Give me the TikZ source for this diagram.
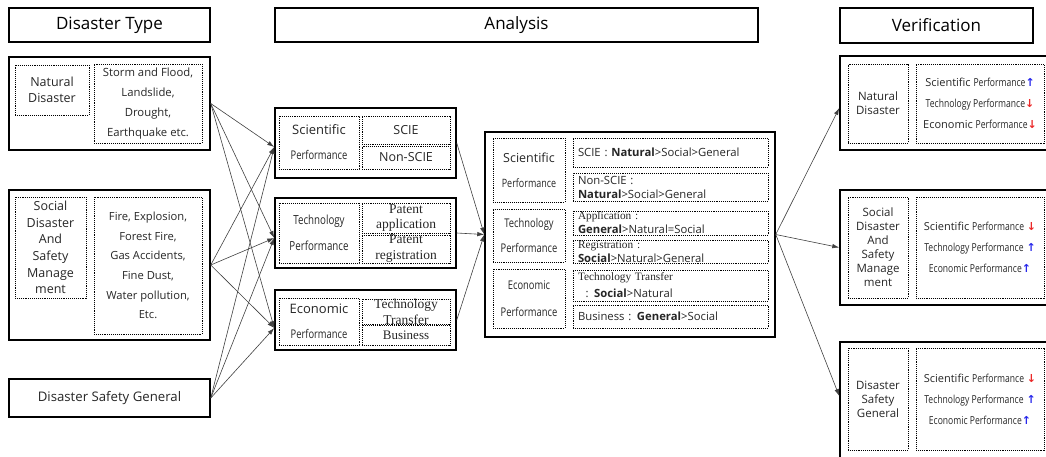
\documentclass[tikz,border=0pt]{standalone}
\usepackage{fontspec}
\usetikzlibrary{arrows.meta}
\setmainfont{Open Sans}
\newfontfamily\serif{Liberation Serif}
\newfontfamily\narrow{Open Sans}[FakeStretch=0.78]
\newfontfamily\signs{DejaVu Sans}
\definecolor{upblue}{RGB}{40,40,235}
\definecolor{downred}{RGB}{235,40,40}
\newcommand{\up}{{\signs\bfseries\color{upblue}↑}}
\newcommand{\down}{{\signs\bfseries\color{downred}↓}}
\begin{document}
\begin{tikzpicture}[x=1pt,y=-1pt,>={Latex[length=7pt,width=4.5pt]},
  box/.style={draw,line width=1.5pt,inner sep=0pt,align=center},
  dots/.style={draw,densely dotted,line width=0.9pt,inner xsep=0pt,inner ysep=-6pt,align=center,text=black!85},
  dotl/.style={dots,align=left,inner xsep=5pt},
  link/.style={->,line width=0.6pt,draw=black!75}]
\useasboundingbox (0,0) rectangle (1046,456);
\coordinate (H1) at (109.5,25);
\coordinate (H2) at (516.5,25);
\coordinate (H3) at (936.5,25.5);
\coordinate (L1) at (109.5,103.5);
\coordinate (L2) at (109.5,265);
\coordinate (L3) at (109.5,398);
\coordinate (M1) at (365.5,143);
\coordinate (M2) at (365.5,233);
\coordinate (M3) at (365.5,320);
\coordinate (A) at (630,234.5);
\coordinate (R1) at (952,103);
\coordinate (R2) at (952,247.5);
\coordinate (R3) at (952,406);
\node[box,minimum width=201,minimum height=34,font=\fontsize{17}{20}\selectfont] (htype) at (H1) {Disaster Type};
\node[box,minimum width=483,minimum height=34,font=\fontsize{17}{20}\selectfont] (hana) at (H2) {Analysis};
\node[box,minimum width=193,minimum height=35,font=\fontsize{17}{20}\selectfont] (hver) at (H3) {Verification};
\node[box,minimum width=201,minimum height=93] (lnat) at (L1) {};
\node[dots,minimum width=74,minimum height=50,font=\fontsize{12.5}{16}\selectfont] (lnatname) at (52,90) {Natural\\Disaster};
\node[dots,minimum width=108,minimum height=79,font=\fontsize{11.3}{20}\selectfont] (lnatlist) at (148,103.5) {Storm and Flood,\\Landslide,\\Drought,\\Earthquake etc.};
\node[box,minimum width=201,minimum height=150] (lsoc) at (L2) {};
\node[dots,minimum width=71,minimum height=101,font=\fontsize{12.5}{16.7}\selectfont] (lsocname) at (50.5,247.5) {Social\\Disaster\\And\\Safety\\Manage\\ment};
\node[dots,minimum width=108,minimum height=137,font=\fontsize{11.2}{19.6}\selectfont] (lsoclist) at (148,265.5) {Fire, Explosion,\\Forest Fire,\\Gas Accidents,\\Fine Dust,\\Water pollution,\\Etc.};
\node[box,minimum width=201,minimum height=38,font=\fontsize{13.2}{15}\selectfont,text=black!85] (lgen) at (L3) {Disaster Safety General};
\node[box,minimum width=181,minimum height=70] (msci) at (M1) {};
\node[dots,minimum width=80,minimum height=53,font=\fontsize{13}{25}\selectfont] (mscil) at (319,142.5) {Scientific\\{\narrow\fontsize{12}{25}\selectfont Performance}};
\node[dots,minimum width=88,minimum height=28,font=\fontsize{12.5}{14}\selectfont] (mscie) at (406,130) {SCIE};
\node[dots,minimum width=88,minimum height=23,font=\fontsize{12.5}{14}\selectfont] (mnon) at (406,157.5) {Non-SCIE};
\node[box,minimum width=181,minimum height=70] (mtec) at (M2) {};
\node[dots,minimum width=80,minimum height=60,font=\narrow\fontsize{12.5}{26}\selectfont] (mtecl) at (319,233) {Technology\\Performance};
\node[dots,minimum width=88,minimum height=30,font=\serif\fontsize{13.5}{15.5}\selectfont] (mapp) at (406,218) {Patent\\application};
\node[dots,minimum width=88,minimum height=28,font=\serif\fontsize{13.5}{16}\selectfont] (mreg) at (406,249) {Patent\\registration};
\node[box,minimum width=181,minimum height=60] (meco) at (M3) {};
\node[dots,minimum width=80,minimum height=47,font=\fontsize{13}{25}\selectfont] (mecol) at (319,321.5) {Economic\\{\narrow\fontsize{12}{25}\selectfont Performance}};
\node[dots,minimum width=88,minimum height=25,font=\serif\fontsize{13.5}{16}\selectfont] (mtt) at (406,311.5) {Technology\\Transfer};
\node[dots,minimum width=88,minimum height=20,font=\serif\fontsize{13}{14}\selectfont] (mbus) at (406,335) {Business};
\node[box,minimum width=290,minimum height=205] (ana) at (A) {};
\node[dots,minimum width=72,minimum height=64,font=\fontsize{12.5}{25}\selectfont] (asci) at (529,170) {Scientific\\{\narrow\fontsize{11.5}{25}\selectfont Performance}};
\node[dots,minimum width=72,minimum height=53,font=\narrow\fontsize{12}{25}\selectfont] (atec) at (529,235.5) {Technology\\Performance};
\node[dots,minimum width=72,minimum height=59,font=\narrow\fontsize{12}{27}\selectfont] (aeco) at (529,298.5) {Economic\\Performance};
\node[dotl,text width=185,minimum height=29,font=\fontsize{11.3}{14}\selectfont] (ascie) at (670.5,152.5) {SCIE : \textbf{Natural}>Social>General};
\node[dotl,text width=185,minimum height=28,font=\fontsize{11.3}{14}\selectfont] (anon) at (670.5,187) {Non-SCIE :\\\textbf{Natural}>Social>General};
\node[dotl,text width=185,minimum height=24,font=\fontsize{11.3}{14}\selectfont] (aapp) at (670.5,223) {{\serif Application :}\\\textbf{General}>Natural=Social};
\node[dotl,text width=185,minimum height=23,font=\fontsize{11.3}{14}\selectfont] (areg) at (670.5,251.5) {{\serif Registration :}\\\textbf{Social}>Natural>General};
\node[dotl,text width=185,minimum height=31,font=\fontsize{11.3}{17}\selectfont] (att) at (670.5,285.5) {{\serif Technology Transfer}\\\ \ : \textbf{Social}>Natural};
\node[dotl,text width=185,minimum height=23,font=\fontsize{11.3}{14}\selectfont] (abus) at (670.5,316.5) {Business : \textbf{General}>Social};
\node[box,minimum width=224,minimum height=94] (rnat) at (R1) {};
\node[dots,minimum width=60,minimum height=79,font=\fontsize{11.5}{14}\selectfont] (rnatname) at (878,103.5) {Natural\\Disaster};
\node[dots,minimum width=128,minimum height=79,font=\fontsize{11}{21}\selectfont] (rnatres) at (980,103.5) {Scientific {\narrow Performance}\up\\{\narrow Technology Performance}\down\\Economic {\narrow Performance}\down};
\node[box,minimum width=224,minimum height=115] (rsoc) at (R2) {};
\node[dots,minimum width=60,minimum height=101,font=\fontsize{11.5}{14}\selectfont] (rsocname) at (878,247.5) {Social\\Disaster\\And\\Safety\\Manage\\ment};
\node[dots,minimum width=128,minimum height=101,font=\fontsize{11}{21}\selectfont] (rsocres) at (980,247.5) {Scientific {\narrow Performance} \down\\{\narrow Technology Performance} \up\\{\narrow Economic Performance}\up};
\node[box,minimum width=224,minimum height=128] (rgen) at (R3) {};
\node[dots,minimum width=60,minimum height=102,font=\fontsize{11.5}{14}\selectfont] (rgenname) at (878,399) {Disaster\\Safety\\General};
\node[dots,minimum width=128,minimum height=102,font=\fontsize{11}{21}\selectfont] (rgenres) at (980,399) {Scientific {\narrow Performance} \down\\{\narrow Technology Performance} \up\\{\narrow Economic Performance}\up};
\draw[link] (lnat.east) -- ([yshift=-4pt]msci.west);
\draw[link] (lnat.east) -- ([yshift=-5pt]mtec.west);
\draw[link] (lnat.east) -- ([yshift=-8pt]meco.west);
\draw[link] (lsoc.east) -- ([yshift=-4pt]msci.west);
\draw[link] (lsoc.east) -- ([yshift=-5pt]mtec.west);
\draw[link] (lsoc.east) -- ([yshift=-8pt]meco.west);
\draw[link] (lgen.east) -- ([yshift=-4pt]msci.west);
\draw[link] (lgen.east) -- ([yshift=-5pt]mtec.west);
\draw[link] (lgen.east) -- ([yshift=-8pt]meco.west);
\draw[link] (msci.east) -- (ana.west);
\draw[link] (mtec.east) -- (ana.west);
\draw[link] (meco.east) -- (ana.west);
\draw[link] (ana.east) -- ([yshift=-5pt]rnat.west);
\draw[link] (ana.east) -- (rsoc.west);
\draw[link] (ana.east) -- ([yshift=10pt]rgen.west);
\end{tikzpicture}
\end{document}
